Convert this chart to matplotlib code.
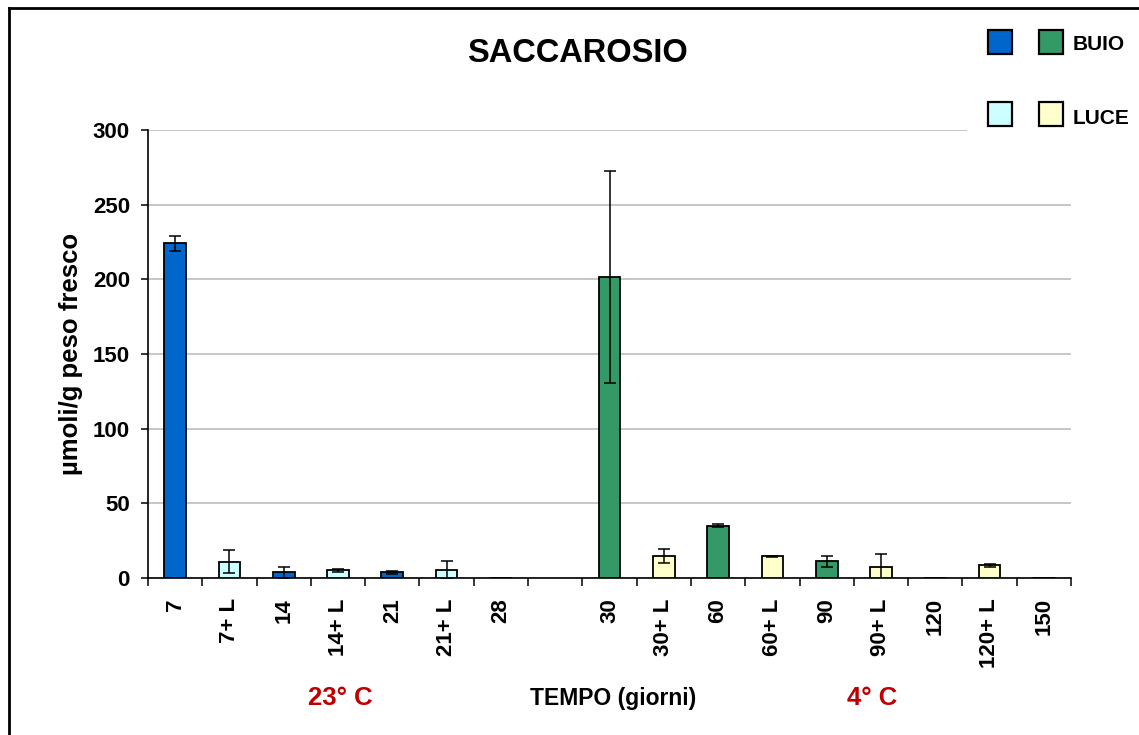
import matplotlib
matplotlib.use("Agg")
import matplotlib.pyplot as plt
from matplotlib.patches import Rectangle
from matplotlib.lines import Line2D
import numpy as np

plt.rcParams['font.family'] = ['Liberation Sans', 'DejaVu Sans']
plt.rcParams['font.weight'] = 'bold'

# Sucrose content per sampling time (dark = BUIO, light = LUCE)
labels = ["7", "7+ L", "14", "14+ L", "21", "21+ L", "28", "",
          "30", "30+ L", "60", "60+ L", "90", "90+ L", "120", "120+ L", "150"]
values = [224.3, 11.0, 3.8, 5.1, 3.8, 5.1, 0.3, None,
          201.8, 14.7, 35.0, 14.5, 11.2, 7.4, 0.3, 8.5, 0.3]
errors = [5.0, 7.5, 3.5, 1.0, 1.2, 6.0, 0.0, None,
          71.0, 4.5, 1.0, 0.3, 3.5, 8.5, 0.0, 0.8, 0.0]
groups = ["b23", "l23", "b23", "l23", "b23", "l23", "b23", None,
          "b4", "l4", "b4", "l4", "b4", "l4", "b4", "l4", "b4"]

colors = {"b23": "#0066CC", "l23": "#CCFFFF", "b4": "#339966", "l4": "#FFFFCC"}

W, H = 1139, 735
fig = plt.figure(figsize=(W / 100, H / 100), dpi=100)
ax = fig.add_axes([148 / W, 1 - 578 / H, (1071 - 148) / W, (578 - 130) / H])

x = np.arange(len(labels))
for xi, v, e, g in zip(x, values, errors, groups):
    if v is None:
        continue
    ax.bar(xi, v, width=0.4, color=colors[g], edgecolor="black",
           linewidth=1.3, zorder=3)
    if e > 0:
        ax.errorbar(xi, v, yerr=e, fmt="none", ecolor="black",
                    elinewidth=1.1, capsize=4.5, capthick=1.1, zorder=4)

ax.set_xlim(-0.5, len(labels) - 0.5)
ax.set_ylim(0, 300)
ax.set_yticks(np.arange(0, 301, 50))
ax.yaxis.grid(True, color="#BEBEBE", linewidth=1.2, zorder=0)
ax.set_axisbelow(True)

ax.set_xticks(x)
ax.set_xticklabels(labels, rotation=90, fontsize=16, fontweight="bold",
                   va="top", ha="center")
ax.set_xticks(np.arange(-0.5, len(labels)), minor=True)
ax.tick_params(axis="x", which="major", length=0, pad=14.5)
ax.tick_params(axis="x", which="minor", length=6, width=1.1, direction="out")
ax.tick_params(axis="y", length=5, width=1.1, direction="out", pad=8,
               labelsize=16)
for lab in ax.get_yticklabels():
    lab.set_fontweight("bold")

for s in ("top", "right"):
    ax.spines[s].set_visible(False)
for s in ("left", "bottom"):
    ax.spines[s].set_linewidth(1.2)

ax.set_ylabel("µmoli/g peso fresco", fontsize=18.5, fontweight="bold")
ax.yaxis.set_label_coords(-(148 - 83) / (1071 - 148), 0.5)


def px(xp, yp):
    return xp / W, 1 - yp / H


fig.text(*px(577, 62), "SACCAROSIO", fontsize=23.5, fontweight="bold",
         ha="center", va="baseline")
fig.text(*px(613, 705), "TEMPO (giorni)", fontsize=16.5, fontweight="bold",
         ha="center", va="baseline")
fig.text(*px(340, 705), "23° C", fontsize=18.5, fontweight="bold",
         color="#C00000", ha="center", va="baseline")
fig.text(*px(872, 705), "4° C", fontsize=18.5, fontweight="bold",
         color="#C00000", ha="center", va="baseline")

# legend panel
fig.add_artist(Rectangle(px(967, 140), (W - 967) / W, 120 / H,
                         transform=fig.transFigure, facecolor="white",
                         edgecolor="none", zorder=5))
sq = 24
for (xl, yt, key) in [(988, 30, "b23"), (1039, 30, "b4"),
                      (988, 102, "l23"), (1039, 102, "l4")]:
    fig.add_artist(Rectangle(px(xl, yt + sq), sq / W, sq / H,
                             transform=fig.transFigure, facecolor=colors[key],
                             edgecolor="black", linewidth=1.6, zorder=6))
fig.text(*px(1073, 45), "BUIO", fontsize=15, fontweight="bold",
         ha="left", va="center", zorder=7)
fig.text(*px(1073, 118), "LUCE", fontsize=15, fontweight="bold",
         ha="left", va="center", zorder=7)

# outer frame
fig.add_artist(Line2D([9 / W, 9 / W], [0, 1 - 8 / H], color="black",
                      linewidth=2, transform=fig.transFigure, zorder=8))
fig.add_artist(Line2D([9 / W, 1], [1 - 8 / H, 1 - 8 / H], color="black",
                      linewidth=2, transform=fig.transFigure, zorder=8))

fig.savefig("out.png", dpi=100, facecolor="white")
